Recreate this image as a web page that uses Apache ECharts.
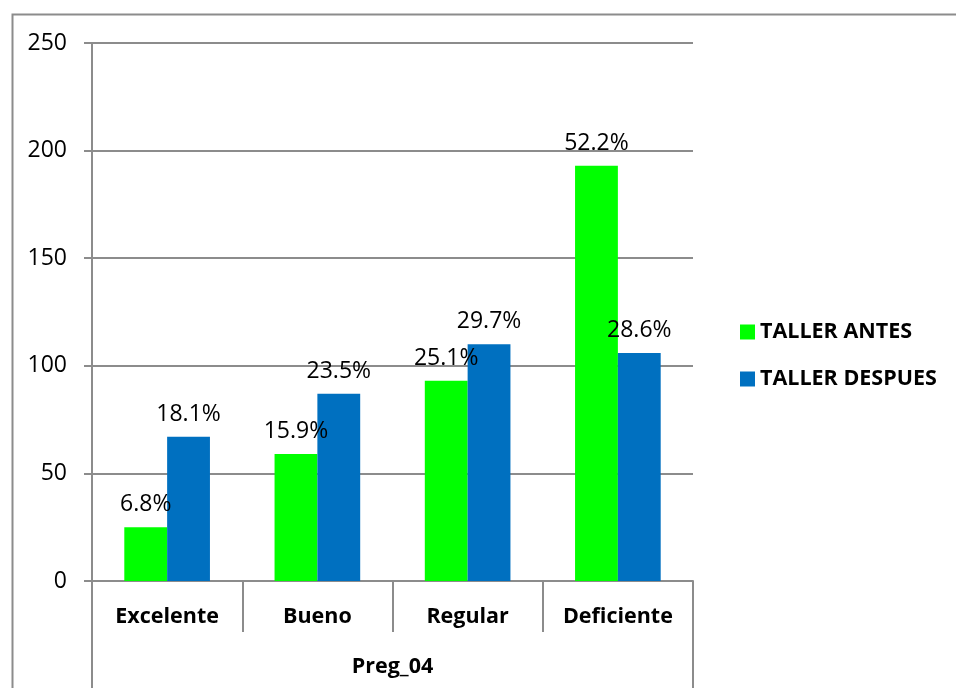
<!DOCTYPE html>
<html><head><meta charset="utf-8">
<script src="https://cdn.jsdelivr.net/npm/echarts@6/dist/echarts.min.js"></script>
<style>html,body{margin:0;padding:0;background:#fff}#c{width:956px;height:688px}</style>
</head><body><div id="c"></div>
<script>
const categories = ['Excelente', 'Bueno', 'Regular', 'Deficiente'];
const antes = [25, 59, 93, 193];
const despues = [67, 87, 110, 106];
const antesPct = ['6.8%', '15.9%', '25.1%', '52.2%'];
const despuesPct = ['18.1%', '23.5%', '29.7%', '28.6%'];
const groupLabel = ['Preg_04'];
const seriesNames = ['TALLER ANTES', 'TALLER DESPUES'];

const FONT = '"Open Sans", sans-serif';
const GRAY = '#8c8c8c';
const chart = echarts.init(document.getElementById('c'));
chart.setOption({
  backgroundColor: '#fff',
  animation: false,
  textStyle: { fontFamily: FONT },
  grid: { left: 92, right: 263, top: 43, bottom: 107, containLabel: false },
  legend: {
    orient: 'vertical', left: 735, top: 316, itemGap: 25,
    itemWidth: 15, itemHeight: 15, icon: 'rect',
    textStyle: { fontFamily: FONT, fontWeight: 'bold', fontSize: 21.5, color: '#000' },
    data: seriesNames
  },
  xAxis: [{
    type: 'category', data: categories, position: 'bottom',
    axisLine: { show: true, lineStyle: { color: GRAY, width: 2 } },
    axisTick: { show: true, length: 51, interval: 0, lineStyle: { color: GRAY, width: 2 } },
    axisLabel: { interval: 0, margin: 25, fontFamily: FONT, fontWeight: 'bold', fontSize: 21.5, color: '#000' }
  }, {
    type: 'category', data: groupLabel, position: 'bottom',
    axisLine: { show: false },
    axisTick: { show: true, length: 107, lineStyle: { color: GRAY, width: 2 } },
    axisLabel: { margin: 75, fontFamily: FONT, fontWeight: 'bold', fontSize: 21.5, color: '#000' }
  }],
  yAxis: {
    type: 'value', min: 0, max: 250, interval: 50,
    axisLine: { show: true, lineStyle: { color: GRAY, width: 2 } },
    axisTick: { show: true, length: 8, lineStyle: { color: GRAY, width: 2 } },
    axisLabel: { margin: 25, fontFamily: FONT, fontSize: 23, color: '#000' },
    splitLine: { show: true, lineStyle: { color: GRAY, width: 2 } }
  },
  series: [{
    name: seriesNames[0], type: 'bar', data: antes, barGap: '0%', barCategoryGap: '43%',
    itemStyle: { color: '#00ff00' },
    label: { show: true, position: 'top', distance: 11, fontFamily: FONT, fontSize: 23, color: '#000',
      formatter: p => antesPct[p.dataIndex] }
  }, {
    name: seriesNames[1], type: 'bar', data: despues, barGap: '0%', barCategoryGap: '43%',
    itemStyle: { color: '#0070c0' },
    label: { show: true, position: 'top', distance: 11, fontFamily: FONT, fontSize: 23, color: '#000',
      formatter: p => despuesPct[p.dataIndex] }
  }],
  graphic: [{
    type: 'rect', left: 10, top: 12, silent: true, z: -1,
    shape: { width: 1000, height: 800 },
    style: { fill: 'none', stroke: GRAY, lineWidth: 2 }
  }]
});
</script></body></html>
